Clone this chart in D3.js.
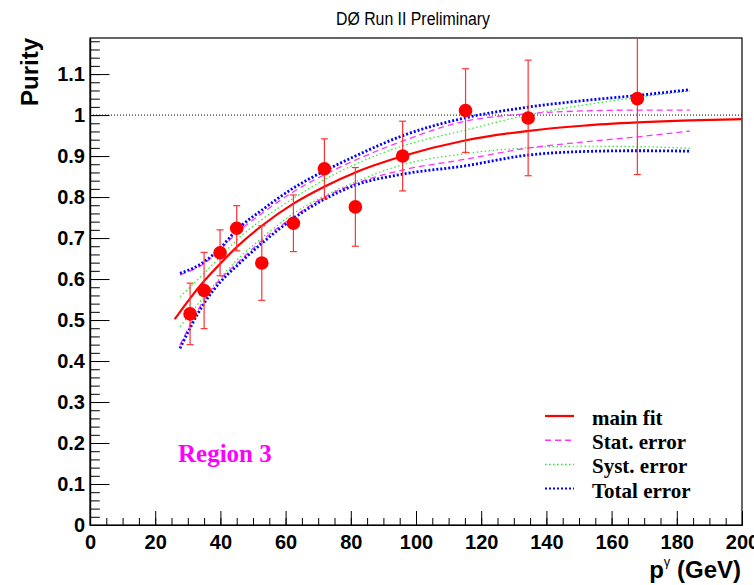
<!DOCTYPE html>
<html lang="en">
<head>
<meta charset="UTF-8">
<title>Purity vs photon pT</title>
<script src="https://d3js.org/d3.v7.min.js"></script>
<style>
  body { margin: 0; background: #fff; }
</style>
</head>
<body>
<svg id="chart" width="754" height="585"></svg>
<script>
  // measured points with errors
  const ptX = [30.7, 35.0, 39.9, 45.0, 52.7, 62.4, 71.9, 81.4, 95.9, 115.2, 134.4, 167.9];
  const ptY = [0.515, 0.572, 0.664, 0.724, 0.639, 0.736, 0.869, 0.776, 0.900, 1.011, 0.993, 1.040];
  const ptErr = [0.075, 0.093, 0.056, 0.055, 0.091, 0.069, 0.073, 0.096, 0.085, 0.102, 0.141, 0.185];

  // main fit
  const fitX = [26, 30.7, 35, 40, 45, 52.7, 62.4, 72, 81.4, 96, 115, 134, 151, 168, 184, 200];
  const fitY = [0.502, 0.553, 0.595, 0.638, 0.678, 0.730, 0.784, 0.826, 0.860, 0.900, 0.938, 0.961, 0.974, 0.982, 0.987, 0.990];

  // error bands
  const bandX   = [27.6, 35, 40, 45, 52.7, 62.4, 72, 81.4, 96, 115, 134, 151, 168, 184];
  const statUp  = [0.610, 0.638, 0.672, 0.712, 0.760, 0.813, 0.855, 0.890, 0.937, 0.985, 1.003, 1.010, 1.012, 1.012];
  const statLo  = [0.439, 0.549, 0.600, 0.638, 0.694, 0.752, 0.800, 0.833, 0.866, 0.892, 0.919, 0.934, 0.947, 0.961];
  const systUp  = [0.557, 0.614, 0.655, 0.695, 0.745, 0.797, 0.843, 0.880, 0.925, 0.963, 1.000, 1.024, 1.043, 1.059];
  const systLo  = [0.484, 0.557, 0.603, 0.646, 0.700, 0.760, 0.803, 0.837, 0.879, 0.906, 0.920, 0.924, 0.923, 0.919];
  const totUp   = [0.614, 0.642, 0.676, 0.720, 0.768, 0.822, 0.864, 0.900, 0.950, 0.993, 1.019, 1.035, 1.048, 1.062];
  const totLo   = [0.431, 0.541, 0.593, 0.632, 0.687, 0.748, 0.795, 0.829, 0.856, 0.876, 0.902, 0.911, 0.913, 0.912];

  const xTicks = [0, 20, 40, 60, 80, 100, 120, 140, 160, 180, 200];
  const xTickLabels = ["0", "20", "40", "60", "80", "100", "120", "140", "160", "180", "200"];
  const yTicks = [0, 0.1, 0.2, 0.3, 0.4, 0.5, 0.6, 0.7, 0.8, 0.9, 1, 1.1];
  const yTickLabels = ["0", "0.1", "0.2", "0.3", "0.4", "0.5", "0.6", "0.7", "0.8", "0.9", "1", "1.1"];

  const legendLabels = ["main fit", "Stat. error", "Syst. error", "Total error"];

  const padL = 90, padR = 742, padT = 38, padB = 525;

  const svg = d3.select("#chart");

  const x = d3.scaleLinear().domain([0, 200]).range([padL, padR]);
  const y = d3.scaleLinear().domain([0, 1.188]).range([padB, padT]);

  svg.append("defs").append("clipPath").attr("id", "plotclip")
    .append("rect")
    .attr("x", padL).attr("y", padT)
    .attr("width", padR - padL).attr("height", padB - padT);

  // title
  svg.append("text")
    .attr("x", 413).attr("y", 25)
    .attr("text-anchor", "middle")
    .attr("font-family", "Liberation Sans, Arial, sans-serif")
    .attr("font-size", "18px")
    .attr("textLength", 154)
    .attr("lengthAdjust", "spacingAndGlyphs")
    .text("DØ Run II Preliminary");

  // axes, ticks point inwards like ROOT
  const font = "Liberation Sans, Arial, sans-serif";

  const xMinor = svg.append("g").attr("transform", `translate(0,${padB})`)
    .call(d3.axisBottom(x).tickValues(d3.range(0, 201, 5)).tickSize(-7).tickSizeOuter(0).tickFormat(""));
  const xMajor = svg.append("g").attr("transform", `translate(0,${padB})`)
    .call(d3.axisBottom(x).tickValues(xTicks).tickSize(-14).tickSizeOuter(0).tickPadding(10)
      .tickFormat((d, i) => xTickLabels[i]));

  const yMinor = svg.append("g").attr("transform", `translate(${padL},0)`)
    .call(d3.axisLeft(y).tickValues(d3.range(0, 1.19, 0.02)).tickSize(-9.8).tickSizeOuter(0).tickFormat(""));
  const yMajor = svg.append("g").attr("transform", `translate(${padL},0)`)
    .call(d3.axisLeft(y).tickValues(yTicks).tickSize(-19.5).tickSizeOuter(0).tickPadding(5)
      .tickFormat((d, i) => yTickLabels[i]));

  [xMinor, xMajor, yMinor, yMajor].forEach(g => {
    g.selectAll("line").attr("stroke", "#000").attr("stroke-width", 1);
    g.select(".domain").attr("stroke", "#000").attr("stroke-width", 1.2);
    g.selectAll("text")
      .attr("font-family", font)
      .attr("font-weight", "bold")
      .attr("font-size", "20px")
      .attr("fill", "#000");
  });

  // frame
  svg.append("rect")
    .attr("x", padL).attr("y", padT)
    .attr("width", padR - padL).attr("height", padB - padT)
    .attr("fill", "none").attr("stroke", "#000").attr("stroke-width", 1.2);

  // axis titles
  svg.append("text")
    .attr("transform", "translate(38,38) rotate(-90)")
    .attr("text-anchor", "end")
    .attr("font-family", font)
    .attr("font-weight", "bold")
    .attr("font-size", "24px")
    .text("Purity");

  const xt = svg.append("text")
    .attr("x", 741).attr("y", 578)
    .attr("text-anchor", "end")
    .attr("font-family", font)
    .attr("font-weight", "bold")
    .attr("font-size", "24px");
  xt.append("tspan").text("p");
  xt.append("tspan").attr("dy", -12).attr("font-size", "13px").attr("font-weight", "normal").text("γ");
  xt.append("tspan").attr("dy", 12).text(" (GeV)");

  const plot = svg.append("g").attr("clip-path", "url(#plotclip)");

  // reference line at purity = 1
  plot.append("line")
    .attr("x1", x(0)).attr("x2", x(200))
    .attr("y1", y(1)).attr("y2", y(1))
    .attr("stroke", "#000").attr("stroke-width", 1)
    .attr("stroke-dasharray", "1,2");

  const line = d3.line()
    .x(d => x(d[0])).y(d => y(d[1]))
    .curve(d3.curveMonotoneX);

  const styles = {
    fit:  { color: "#ff0000", width: 2.2, dash: null },
    stat: { color: "#ff33ff", width: 1.3, dash: "6,4" },
    syst: { color: "#22ee22", width: 1.2, dash: "1.5,2.5" },
    tot:  { color: "#0000ff", width: 2.8, dash: "2,2" }
  };

  function drawCurve(xs, ys, st) {
    const p = plot.append("path")
      .datum(xs.map((v, i) => [v, ys[i]]))
      .attr("d", line)
      .attr("fill", "none")
      .attr("stroke", st.color)
      .attr("stroke-width", st.width);
    if (st.dash) p.attr("stroke-dasharray", st.dash);
  }

  drawCurve(bandX, systUp, styles.syst);
  drawCurve(bandX, systLo, styles.syst);
  drawCurve(bandX, statUp, styles.stat);
  drawCurve(bandX, statLo, styles.stat);
  drawCurve(bandX, totUp, styles.tot);
  drawCurve(bandX, totLo, styles.tot);
  drawCurve(fitX, fitY, styles.fit);

  // error bars
  ptX.forEach((px, i) => {
    const cx = x(px);
    const y1 = y(ptY[i] + ptErr[i]), y2 = y(ptY[i] - ptErr[i]);
    plot.append("line")
      .attr("x1", cx).attr("x2", cx).attr("y1", y1).attr("y2", y2)
      .attr("stroke", "#ff3333").attr("stroke-width", 1.2);
    [y1, y2].forEach(yy => {
      plot.append("line")
        .attr("x1", cx - 3.5).attr("x2", cx + 3.5).attr("y1", yy).attr("y2", yy)
        .attr("stroke", "#ff3333").attr("stroke-width", 1.2);
    });
  });

  plot.selectAll("circle.pt")
    .data(ptX)
    .enter().append("circle")
    .attr("class", "pt")
    .attr("cx", d => x(d))
    .attr("cy", (d, i) => y(ptY[i]))
    .attr("r", 6.8)
    .attr("fill", "#ff0000");

  // legend
  const legStyles = [styles.fit, styles.stat, styles.syst, styles.tot];
  legendLabels.forEach((lab, i) => {
    const ly = 416 + i * 24.2;
    const l = svg.append("line")
      .attr("x1", 545).attr("x2", 574)
      .attr("y1", ly).attr("y2", ly)
      .attr("stroke", legStyles[i].color)
      .attr("stroke-width", i === 0 ? 2.2 : (i === 3 ? 2 : 1.5));
    if (legStyles[i].dash) l.attr("stroke-dasharray", legStyles[i].dash);
    svg.append("text")
      .attr("x", 592).attr("y", ly + 9)
      .attr("font-family", "Liberation Serif, Times New Roman, serif")
      .attr("font-weight", "bold")
      .attr("font-size", "21px")
      .text(lab);
  });

  svg.append("text")
    .attr("x", 178).attr("y", 462)
    .attr("font-family", "Liberation Serif, Times New Roman, serif")
    .attr("font-weight", "bold")
    .attr("font-size", "25px")
    .attr("fill", "#ff00ff")
    .text("Region 3");
</script>
</body>
</html>
